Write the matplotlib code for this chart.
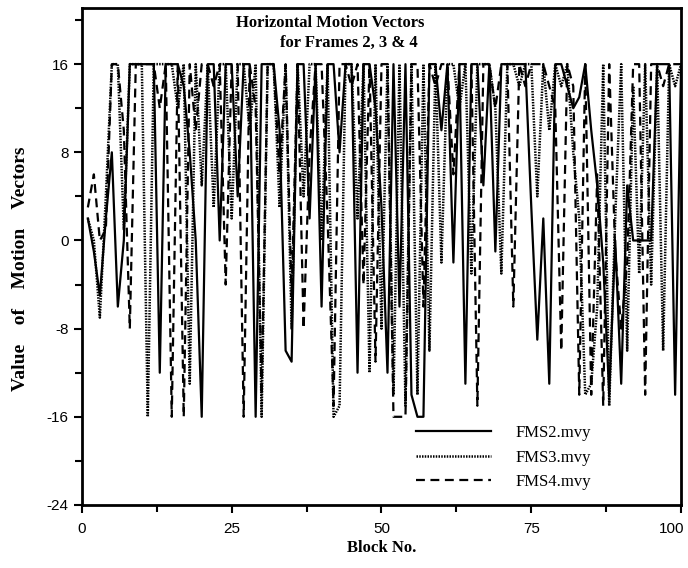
import numpy as np
import matplotlib.pyplot as plt
import matplotlib.transforms as mtransforms
from matplotlib.ticker import MultipleLocator

plt.rcParams['axes.unicode_minus'] = False

# block numbers
blocks = np.arange(1, 101)

# horizontal motion vectors
fms2 = [2, -1, -5, 2, 8, -6, 0, 16, 16, 16,
        16, 16, -12, 16, 16, 16, 14, 8, 0, -16,
        16, 16, 0, 16, 16, 4, 16, 16, -16, 16,
        16, 16, 10, -10, -11, 16, 16, 2, 16, -6,
        16, 16, 8, 16, 16, -12, 16, 16, 12, 3,
        -12, 16, -6, 16, -14, -16, -16, 16, 16, 10,
        16, -2, 16, -13, 16, 16, 5, 16, -1, 16,
        16, 16, 16, 16, 3, -9, 2, -13, 16, 16,
        14, 12, 13, 16, 10, 5, -2, -14, 0, -13,
        5, 0, 0, 0, 0, 16, 16, 16, -14, 16]

fms3 = [2, 0, -7, 4, 16, 16, 1, 16, 16, 16,
        -16, 16, 16, 16, 16, 12, 16, -13, 16, 5,
        16, 3, 16, 16, 2, 16, 16, 10, 16, -16,
        16, 16, 3, 16, -8, 16, 4, 16, 16, 0,
        16, -16, -15, 16, 16, 2, 16, -12, 16, -8,
        16, -14, 16, -15, 16, -14, 16, -10, 16, -2,
        16, 16, 12, 16, -3, 16, 16, 16, 12, -3,
        16, 16, 14, 16, 16, 4, 16, 10, 16, 14,
        16, 8, 2, -14, -13, -6, 16, -15, 2, 16,
        -10, 14, -3, 16, -4, 16, -10, 16, 14, 16]

fms4 = [3, 6, 0, 1, 16, 16, 10, -8, 16, 16,
        16, 16, 12, 16, -16, 16, -16, 16, 10, 16,
        16, 14, 16, -4, 16, 16, -16, 16, 12, -14,
        16, 16, 6, 16, -5, 16, -8, 8, 16, 16,
        2, -15, 16, 16, 14, 16, -4, 16, -11, 16,
        16, -16, -16, -16, 16, 16, -6, 16, 14, 16,
        16, 6, 16, 16, 16, -15, 16, 16, 12, 16,
        16, -6, 16, 14, 16, 16, 16, 14, 12, -10,
        16, 14, -14, 16, -14, 6, -15, 16, -1, -8,
        -2, 16, 16, -14, 16, 16, 14, 16, 16, 16]

x_ticks = [0, 25, 50, 75, 100]
y_ticks = [-24, -16, -8, 0, 8, 16]

fig = plt.figure(figsize=(6.88, 5.68), dpi=100)
ax = fig.add_axes([0.119, 0.111, 0.871, 0.875])

ax.plot(blocks, fms2, color='black', lw=1.6, ls='-', label='FMS2.mvy')
ax.plot(blocks, fms3, color='black', lw=1.8, ls=(0, (0.6, 0.5)), label='FMS3.mvy')
ax.plot(blocks, fms4, color='black', lw=1.6, ls=(0, (4, 2.5)), label='FMS4.mvy')

ax.set_xlim(0, 100)
ax.set_ylim(-24, 21.1)
ax.set_xticks(x_ticks, [str(v) for v in x_ticks])
ax.set_yticks(y_ticks, [str(v) for v in y_ticks])
ax.xaxis.set_minor_locator(MultipleLocator(12.5))
ax.yaxis.set_minor_locator(MultipleLocator(4))
ax.tick_params(which='both', direction='out', width=1.5, labelsize=11)
ax.tick_params(which='major', length=6)
ax.tick_params(which='minor', length=5)
ax.tick_params(axis='x', pad=6)
for lab in ax.get_xticklabels() + ax.get_yticklabels():
    lab.set_family('Liberation Sans')
# pull the "100" label in so it stays on the page
for lab in ax.get_xticklabels():
    if lab.get_text() == '100':
        lab.set_transform(lab.get_transform() +
                          mtransforms.ScaledTranslation(-9 / 100, 0, fig.dpi_scale_trans))
for s in ax.spines.values():
    s.set_linewidth(2)

serif = 'Liberation Serif'
ax.set_xlabel('Block No.', family=serif, weight='bold', fontsize=12, labelpad=3)
ax.set_ylabel('Value    of    Motion    Vectors', family=serif, weight='bold',
              fontsize=14)
ax.yaxis.set_label_coords(-0.088, 0.475)
ax.text(0.415, 0.985, 'Horizontal Motion Vectors', transform=ax.transAxes,
        ha='center', va='top', family=serif, weight='bold', fontsize=12)
ax.text(0.445, 0.945, 'for Frames 2, 3 & 4', transform=ax.transAxes,
        ha='center', va='top', family=serif, weight='bold', fontsize=12)

leg = ax.legend(loc='lower right', bbox_to_anchor=(0.875, 0.0), frameon=False,
                handlelength=4.5, handletextpad=1.5, labelspacing=0.5,
                prop={'family': serif, 'size': 12})

fig.savefig('out.png', dpi=100)
